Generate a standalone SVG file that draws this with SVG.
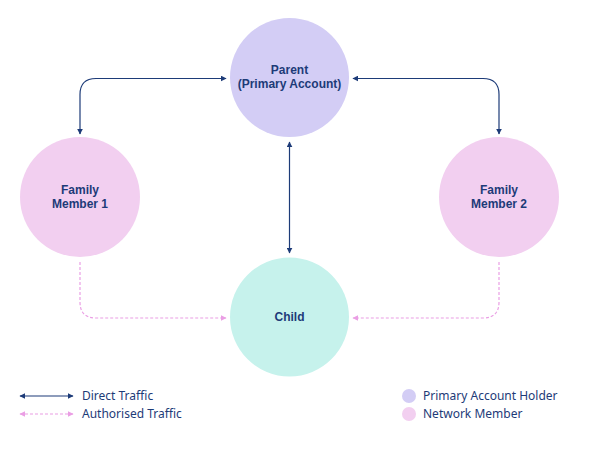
<svg xmlns="http://www.w3.org/2000/svg" width="601" height="459" viewBox="0 0 601 459">
<defs>
<marker id="ad" viewBox="0 0 10 10" refX="9" refY="5" markerWidth="6" markerHeight="6" orient="auto-start-reverse" markerUnits="userSpaceOnUse"><path d="M0,0 L10,5 L0,10 z" fill="#1d3b78"/></marker>
<marker id="ap" viewBox="0 0 10 10" refX="9" refY="5" markerWidth="6" markerHeight="6" orient="auto-start-reverse" markerUnits="userSpaceOnUse"><path d="M0,0 L10,5 L0,10 z" fill="#ea9ee4"/></marker>
<style>
.lbl{font-family:"Liberation Sans",Arial,sans-serif;font-weight:bold;font-size:12px;fill:#1d3b78;text-anchor:middle}
.leg{font-family:"Noto Sans","Liberation Sans",sans-serif;font-size:12px;fill:#1d3b78}
.d{fill:none;stroke:#1d3b78;stroke-width:1.2;marker-start:url(#ad);marker-end:url(#ad)}
.p{fill:none;stroke:#ea9ee4;stroke-width:1.2;stroke-dasharray:3 2;marker-end:url(#ap)}
</style>
</defs>
<rect width="601" height="459" fill="#ffffff"/>
<g id="connectors">
<path class="d" d="M226,78.5 H96 Q80,78.5 80,94.5 V134"/>
<path class="d" d="M353,78.5 H483 Q499,78.5 499,94.5 V134"/>
<path class="d" d="M289.5,142 V253"/>
<path class="p" d="M80,262 V302 Q80,318 96,318 H226"/>
<path class="p" d="M499,262 V302 Q499,318 483,318 H353"/>
</g>
<g id="parent">
<circle cx="289.5" cy="77.5" r="59.5" fill="#d3cdf5"/>
<text class="lbl" x="289.5" y="74">Parent</text>
<text class="lbl" x="289.5" y="88">(Primary Account)</text>
</g>
<g id="family1">
<circle cx="80" cy="197" r="60" fill="#f2cff0"/>
<text class="lbl" x="80" y="194">Family</text>
<text class="lbl" x="80" y="208">Member 1</text>
</g>
<g id="family2">
<circle cx="499" cy="197" r="60" fill="#f2cff0"/>
<text class="lbl" x="499" y="194">Family</text>
<text class="lbl" x="499" y="208">Member 2</text>
</g>
<g id="child">
<circle cx="289.5" cy="317" r="59.5" fill="#c6f2ec"/>
<text class="lbl" x="289.5" y="321">Child</text>
</g>
<g id="legend">
<path class="d" d="M20,396 H73"/>
<path class="p" d="M20,414 H73" style="marker-start:url(#ap)"/>
<text class="leg" x="82" y="400">Direct Traffic</text>
<text class="leg" x="82" y="418">Authorised Traffic</text>
<circle cx="409" cy="396" r="7" fill="#d3cdf5"/>
<circle cx="409" cy="414" r="7" fill="#f2cff0"/>
<text class="leg" x="423" y="400">Primary Account Holder</text>
<text class="leg" x="423" y="418">Network Member</text>
</g>
</svg>
